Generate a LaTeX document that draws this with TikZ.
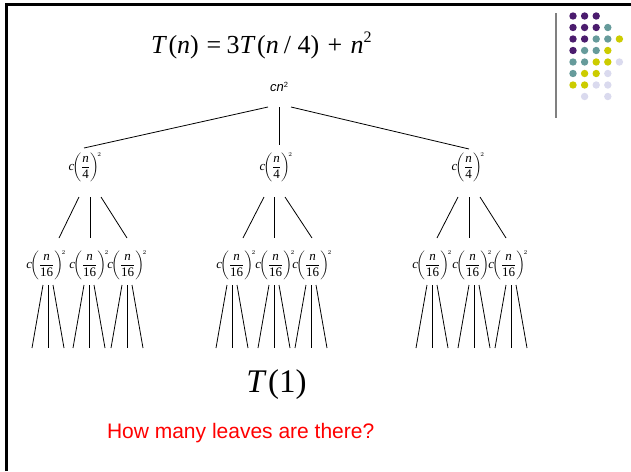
\documentclass[tikz,border=0pt]{standalone}
\usepackage{amsmath}
\usepackage{fontspec}
\setmainfont{Liberation Serif}
\setsansfont{Liberation Sans}
\usetikzlibrary{calc}
\definecolor{lgP}{RGB}{75,28,110}
\definecolor{lgT}{RGB}{102,155,155}
\definecolor{lgY}{RGB}{204,204,0}
\definecolor{lgL}{RGB}{218,218,238}
\definecolor{qred}{RGB}{255,0,0}
\newcommand{\fracnode}[1]{\fontsize{13}{15}\selectfont$\textit{c}\!\biggl(\dfrac{\textit{n}}{\text{#1}}\biggr)^{\!\scriptscriptstyle 2}$}
\begin{document}
\begin{tikzpicture}[x=1pt,y=-1pt,
  treeline/.style={line width=0.8pt,black},
  termnode/.style={inner sep=0pt,outer sep=0pt},
  dot/.style={circle,inner sep=0pt,minimum size=7.4pt}]
\useasboundingbox (0,0) rectangle (631,471);
\fill[white] (0,0) rectangle (631,471);
% frame
\draw[line width=2.6pt] (6.5,471) -- (6.5,4.6) -- (631,4.6);
% logo
\draw[line width=1.3pt,gray] (556,13) -- (556,118);
\foreach \r/\row in {0/{P,P,P},1/{P,P,P,T},2/{P,P,T,T,Y},3/{P,T,T,Y},4/{T,T,Y,Y,L},5/{T,Y,Y,L},6/{Y,Y,L,L}}{
  \foreach \c [count=\i from 0] in \row {
    \node[dot,fill=lg\c] (dot\r\i) at (573+11.6*\i,16+11.5*\r) {};
  }
}
\node[dot,fill=lgL] (dot71) at (584.6,96.5) {};
\node[dot,fill=lgL] (dot73) at (607.8,96.5) {};
% title
\node[termnode,anchor=base west] (title) at (151,53) {\fontsize{26}{26}\selectfont\textit{T}\hspace{0.06em}(\textit{n})\hspace{0.3em}=\hspace{0.2em}3\textit{T}\hspace{0.06em}(\textit{n}\hspace{0.2em}/\hspace{0.25em}4)\hspace{0.32em}+\hspace{0.32em}\textit{n}\raisebox{0.42em}{\fontsize{16}{16}\selectfont 2}};
% root
\node[termnode] (R) at (279,87) {\fontsize{13}{13}\selectfont\sffamily\itshape cn\raisebox{0.35em}{\fontsize{7.5}{7.5}\selectfont\upshape 2}};
% level 1
\node[termnode] (A1) at (85,167) {\fracnode{4}};
\node[termnode] (A2) at (276,167) {\fracnode{4}};
\node[termnode] (A3) at (468,167) {\fracnode{4}};
\draw[treeline] ($(R)+(-11,20)$) -- ($(A1)+(-1,-19)$);
\draw[treeline] ($(R)+(0,20)$) -- ($(A2)+(3,-22)$);
\draw[treeline] ($(R)+(12,20)$) -- ($(A3)+(1,-18)$);
% level 2
\foreach \n/\x in {b11/46,b12/89,b13/127,b21/236,b22/275,b23/312,b31/432,b32/472,b33/508}{
  \node[termnode] (\n) at (\x,265) {\fracnode{16}};
}
\draw[treeline] ($(A1)+(-6,30)$) -- ($(b11)+(13,-27)$);
\draw[treeline] ($(A1)+(5,30)$) -- ($(b12)+(1,-27)$);
\draw[treeline] ($(A1)+(16,30)$) -- ($(b13)+(0,-27)$);
\draw[treeline] ($(A2)+(-12,30)$) -- ($(b21)+(7,-27)$);
\draw[treeline] ($(A2)+(-2,30)$) -- ($(b22)+(-1,-27)$);
\draw[treeline] ($(A2)+(9,30)$) -- ($(b23)+(0,-27)$);
\draw[treeline] ($(A3)+(-10,30)$) -- ($(b31)+(5,-27)$);
\draw[treeline] ($(A3)+(1,30)$) -- ($(b32)+(-3,-27)$);
\draw[treeline] ($(A3)+(12,30)$) -- ($(b33)+(-2,-27)$);
% level 3 stubs
\foreach \n/\d in {b11/2,b12/0,b13/0,b21/-4,b22/-1,b23/-1,b31/0,b32/2,b33/3}{
  \draw[treeline] ($(\n)+(\d-5,20)$) -- ($(\n)+(\d-16,83)$);
  \draw[treeline] ($(\n)+(\d,20)$) -- ($(\n)+(\d,83)$);
  \draw[treeline] ($(\n)+(\d+5,20)$) -- ($(\n)+(\d+16,83)$);
}
% T(1)
\node[termnode,anchor=base] (T1) at (276.5,392) {\fontsize{33}{33}\selectfont\textit{T}\hspace{0.04em}(1)};
% question
\node[termnode,anchor=base west,text=qred] (Q) at (107,438) {\fontsize{21}{21}\selectfont\sffamily How many leaves are there?};
\end{tikzpicture}
\end{document}
